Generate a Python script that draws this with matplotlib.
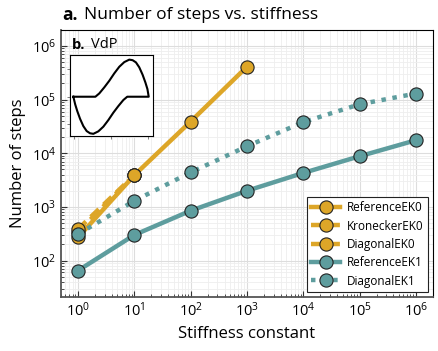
import numpy as np
import matplotlib
matplotlib.use('Agg')
import matplotlib.pyplot as plt

plt.rcParams['font.family'] = ['Open Sans', 'DejaVu Sans']

#colours
GOLD='#DDA628'
TEAL='#5E9D9E'

#data
stiffness=[1e0,1e1,1e2,1e3,1e4,1e5,1e6]
ref_ek0=[270,3900,39000,410000]
kron_ek0=[340,3900]
diag_ek0=[385,3900]
ref_ek1=[65,300,850,2000,4300,8800,17500]
diag_ek1=[310,1300,4400,13500,38000,82000,130000]

#inset: VdP trajectory
vdp_x=[-2.05,-0.86,-0.65,-0.38,-0.11,0.16,0.43,0.70,0.97,1.15,1.33,1.51,1.69,1.84,1.95,2.02,
       0.86,0.65,0.38,0.11,-0.16,-0.43,-0.70,-0.97,-1.15,-1.33,-1.51,-1.69,-1.84,-1.95,-2.05]
vdp_y=[0.0,0.0,0.12,0.34,0.58,0.85,1.09,1.26,1.35,1.33,1.25,1.07,0.80,0.52,0.28,0.0,
       0.0,-0.12,-0.34,-0.58,-0.85,-1.09,-1.26,-1.35,-1.33,-1.25,-1.07,-0.80,-0.52,-0.28,0.0]

fig=plt.figure(figsize=(4.39,3.51), dpi=100)
ax=fig.add_axes([0.139,0.154,0.847,0.761])

mk=dict(marker='o', markersize=9.5, markeredgecolor='#222222', markeredgewidth=0.8)

ax.plot(stiffness[:len(ref_ek0)], ref_ek0, color=GOLD, lw=3.2, label='ReferenceEK0', **mk)
ax.plot(stiffness[:len(kron_ek0)], kron_ek0, color=GOLD, lw=3.2, ls=(0,(2.5,1.5)), label='KroneckerEK0', **mk)
ax.plot(stiffness[:len(diag_ek0)], diag_ek0, color=GOLD, lw=3.2, ls=(0,(2.5,1.5)), label='DiagonalEK0', **mk)
ax.plot(stiffness, ref_ek1, color=TEAL, lw=3.2, label='ReferenceEK1', **mk)
ax.plot(stiffness, diag_ek1, color=TEAL, lw=3.2, ls=(0,(1,1.5)), label='DiagonalEK1', **mk)

ax.set_xscale('log')
ax.set_yscale('log')
ax.set_xlim(0.5,2e6)
ax.set_ylim(21,2e6)
ax.set_xticks([10.0**k for k in range(7)])
ax.set_yticks([10.0**k for k in range(2,7)])
ax.grid(True, which='major', color='#dddddd', lw=0.8)
ax.grid(True, which='minor', color='#eeeeee', lw=0.6)
ax.set_axisbelow(True)
ax.tick_params(which='both', direction='in', labelsize=10.5, colors='#333333', labelcolor='black')
ax.tick_params(which='major', length=4)
ax.tick_params(which='minor', length=2.5)
for s in ['left','bottom']:
    ax.spines[s].set_color('#555555')
    ax.spines[s].set_linewidth(1.3)
for s in ['top','right']:
    ax.spines[s].set_linewidth(0.8)

ax.set_xlabel('Stiffness constant', fontsize=12, labelpad=4)
ax.set_ylabel('Number of steps', fontsize=12, labelpad=4)

leg=ax.legend(loc='lower right', fontsize=8.5, handlelength=2.4, framealpha=1,
              fancybox=False, edgecolor='#222222', borderpad=0.4, labelspacing=0.45,
              handletextpad=0.6, borderaxespad=0.4)
leg.get_frame().set_linewidth(0.8)

fig.text(0.141,0.958,'a.', fontsize=12.5, va='center', ha='left', fontweight='bold')
fig.text(0.192,0.958,'Number of steps vs. stiffness', fontsize=12.5, va='center', ha='left')

#inset
ins=fig.add_axes([0.1595,0.6117,0.1898,0.2325])
ins.plot(vdp_x, vdp_y, color='black', lw=1.5)
ins.set_xlim(-2.23,2.27)
ins.set_ylim(-1.44,1.53)
ins.set_xticks([-2,0,2])
ins.set_yticks([-1,0,1])
ins.tick_params(labelbottom=False, labelleft=False, length=2, width=0.6, colors='#666666')
fig.text(0.163,0.872,'b.', fontsize=10.5, fontweight='bold', va='center', ha='left')
fig.text(0.207,0.872,'VdP', fontsize=10.5, va='center', ha='left')

plt.savefig('out.png', dpi=100)
